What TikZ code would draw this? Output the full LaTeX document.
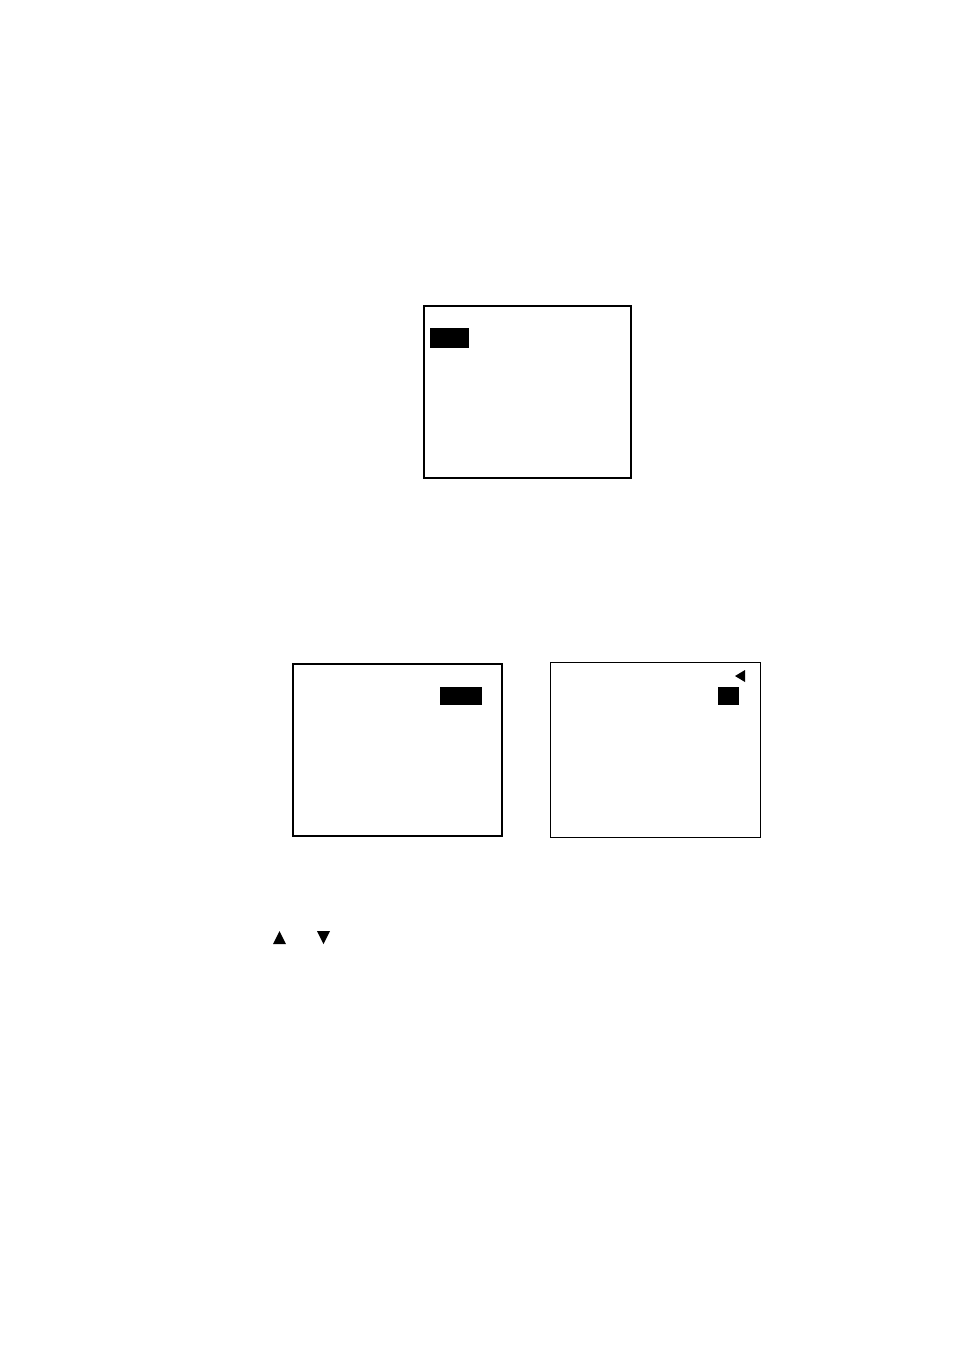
\documentclass[tikz,border=0pt]{standalone}
\usepackage{tikz}
\usetikzlibrary{positioning}

\begin{document}
\begin{tikzpicture}[x=1pt,y=-1pt,
                    screen/.style={draw,line width=1.6pt,inner sep=0pt},
                    thin screen/.style={draw,line width=0.9pt,inner sep=0pt},
                    cursor/.style={fill=black,inner sep=0pt}]
  \useasboundingbox (0,0) rectangle (954,1351);
  % top screen
  \node[screen,minimum width=207pt,minimum height=172pt] (top) at (527.5,392) {};
  \node[cursor,minimum width=39pt,minimum height=20pt] (topcur) at (449.5,338) {};
  % lower left screen
  \node[screen,minimum width=209pt,minimum height=172pt] (left) at (397.5,750) {};
  \node[cursor,minimum width=42pt,minimum height=18pt] (leftcur) at (461,696) {};
  % lower right screen
  \node[thin screen,minimum width=210pt,minimum height=175pt] (right) at (655,749.5) {};
  \node[cursor,minimum width=21pt,minimum height=18pt] (rightcur) at (728.5,696) {};
  \fill (735,676) -- (745,670) -- (745,682) -- cycle;
  % arrow keys
  \fill (273,944) -- (286,944) -- (279.5,931) -- cycle;
  \fill (317,931) -- (330,931) -- (323.5,944) -- cycle;
\end{tikzpicture}
\end{document}
